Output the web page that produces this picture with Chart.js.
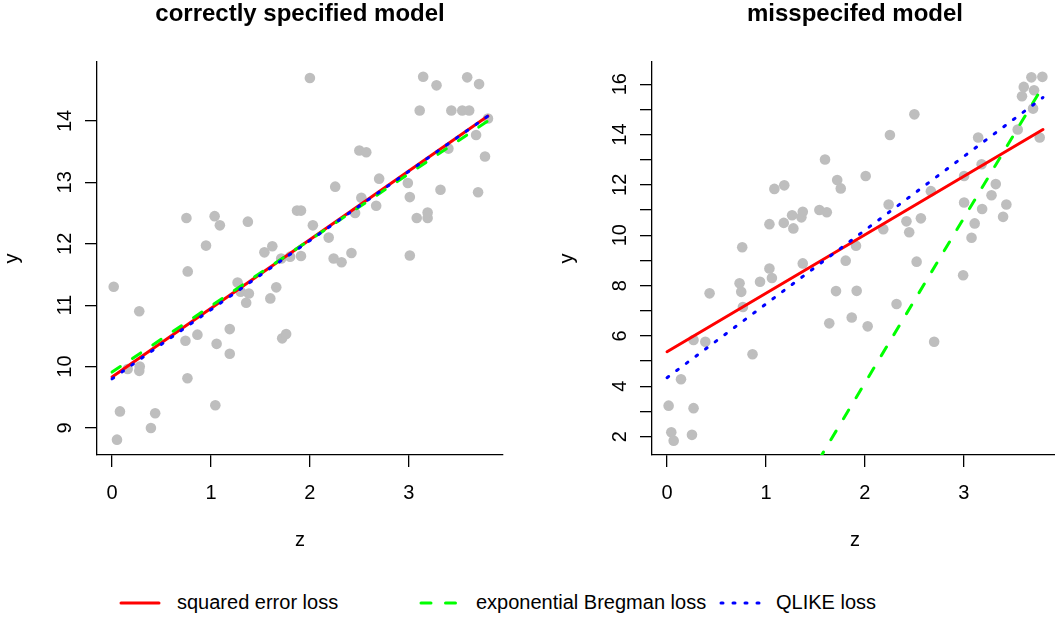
<!DOCTYPE html>
<html>
<head>
<meta charset="utf-8">
<script src="https://cdn.jsdelivr.net/npm/chart.js@4"></script>
<style>
  html, body { margin: 0; padding: 0; background: #fff; overflow: hidden; width: 1055px; height: 619px; }
  body { position: relative; font-family: "Liberation Sans", Arial, Helvetica, sans-serif; }
  .panel { position: absolute; top: 0; }
  #leftPanel { left: 0; }
  #rightPanel { left: 555px; }
  #legend { position: absolute; left: 0; top: 585px; }
</style>
</head>
<body>
<canvas id="leftPanel" class="panel" width="555" height="560"></canvas>
<canvas id="rightPanel" class="panel" width="555" height="560"></canvas>

<svg id="legend" width="1055" height="34">
  <line x1="121" y1="18" x2="159" y2="18" stroke="#ff0000" stroke-width="3" stroke-linecap="round"/>
  <text x="177" y="24" font-size="20" fill="#000">squared error loss</text>
  <line x1="421" y1="18" x2="458" y2="18" stroke="#00ff00" stroke-width="3" stroke-linecap="round" stroke-dasharray="10 14.5"/>
  <text x="476" y="24" font-size="20" fill="#000">exponential Bregman loss</text>
  <line x1="721" y1="18" x2="760" y2="18" stroke="#0000ff" stroke-width="3" stroke-linecap="round" stroke-dasharray="2 10"/>
  <text x="776" y="24" font-size="20" fill="#000">QLIKE loss</text>
</svg>

<script>
// valores
const zTicks = [0, 1, 2, 3];
const leftYTicks = [9, 10, 11, 12, 13, 14];
const leftYLabels = ['9', '10', '11', '12', '13', '14'];
const rightYTicks = [2, 3, 4, 5, 6, 7, 8, 9, 10, 11, 12, 13, 14, 15, 16];
const rightYLabels = ['2', '', '4', '', '6', '', '8', '', '10', '', '12', '', '14', '', '16'];

// painel esquerdo: modelo correto
const leftZ = [0.017, 0.05, 0.08, 0.158, 0.275, 0.28, 0.275, 0.393, 0.436, 0.742, 0.752, 0.762, 0.765, 0.863, 0.95,
  1.037, 1.044, 1.057, 1.09, 1.19, 1.19, 1.269, 1.30, 1.356, 1.383, 1.373, 1.54, 1.60, 1.62, 1.66,
  1.71, 1.72, 1.76, 1.80, 1.87, 1.91, 1.91, 2.0, 2.03, 2.19, 2.24, 2.256, 2.32, 2.42, 2.457,
  2.50, 2.52, 2.57, 2.67, 2.70, 2.99, 3.01, 3.01, 3.08, 3.11, 3.145, 3.19, 3.19, 3.28, 3.32,
  3.40, 3.43, 3.54, 3.59, 3.61, 3.68, 3.70, 3.71, 3.77, 3.80];
const leftY = [11.30, 8.81, 9.27, 9.96, 9.93, 10.0, 10.90, 9.00, 9.24, 10.42, 12.42, 9.81, 11.55, 10.52, 11.97,
  12.45, 9.37, 10.37, 12.30, 10.61, 10.21, 11.37, 11.22, 11.04, 11.19, 12.36, 11.86, 11.11, 11.96, 11.29,
  11.76, 10.46, 10.53, 11.79, 12.54, 12.54, 11.80, 14.70, 12.30, 12.10, 11.76, 12.93, 11.70, 11.85, 12.50,
  13.52, 12.75, 13.49, 12.62, 13.06, 12.99, 12.76, 11.81, 12.42, 14.17, 14.72, 12.42, 12.51, 14.58, 12.88,
  13.55, 14.17, 14.17, 14.71, 14.17, 13.77, 12.84, 14.60, 13.42, 14.04];

// painel direito: modelo mal especificado
const rightZ = [0.016, 0.043, 0.067, 0.141, 0.252, 0.268, 0.268, 0.387, 0.43, 0.733, 0.75, 0.767, 0.76, 0.864, 0.94,
  1.035, 1.06, 1.035, 1.085, 1.18, 1.185, 1.264, 1.277, 1.358, 1.372, 1.372, 1.54, 1.597, 1.615, 1.64,
  1.708, 1.72, 1.756, 1.806, 1.867, 1.91, 1.917, 2.008, 2.028, 2.186, 2.24, 2.253, 2.32, 2.42, 2.448,
  2.50, 2.523, 2.566, 2.667, 2.70, 2.993, 3.003, 3.003, 3.078, 3.11, 3.145, 3.18, 3.185, 3.28, 3.323,
  3.397, 3.43, 3.545, 3.588, 3.606, 3.683, 3.70, 3.71, 3.767, 3.794];
const rightY = [3.23, 2.17, 1.84, 4.28, 2.07, 3.13, 5.84, 5.77, 7.69, 8.09, 7.75, 7.15, 9.52, 5.27, 8.15,
  8.68, 8.30, 10.44, 11.84, 10.49, 11.98, 10.79, 10.27, 10.71, 10.93, 8.88, 11.0, 13.01, 10.91, 6.50,
  7.78, 12.19, 11.86, 8.99, 6.73, 9.58, 7.79, 12.35, 6.38, 10.24, 11.22, 13.98, 7.27, 10.55, 10.12,
  14.80, 8.95, 10.67, 11.75, 5.77, 8.41, 12.35, 11.30, 9.90, 10.47, 13.88, 12.82, 11.04, 11.59, 12.03,
  10.73, 11.22, 14.20, 15.52, 15.89, 16.27, 15.03, 15.76, 13.88, 16.29];

// retas ajustadas (extremos em z)
const fitZ = [0, 3.8];
const leftSquared = [9.83, 14.08];
const leftBregman = [9.91, 14.0];
const leftQlike = [9.80, 14.08];
const rightSquared = [5.37, 14.2];
const rightBregman = [-8.97, 15.92];
const rightQlike = [4.34, 15.47];

const FONT = '"Liberation Sans", Arial, Helvetica, sans-serif';
Chart.defaults.font.family = FONT;
Chart.defaults.color = '#000';

const toPoints = (xs, ys) => xs.map((x, i) => ({ x: x, y: ys[i] }));

// textos no estilo R: título, rótulos dos eixos e ticks do y girados
const panelText = {
    id: 'panelText',
    afterDraw(chart, args, opts) {
        const { ctx, chartArea } = chart;
        const yScale = chart.scales.y;
        const cx = (chartArea.left + chartArea.right) / 2;
        const cy = (chartArea.top + chartArea.bottom) / 2;
        ctx.save();
        ctx.fillStyle = '#000';
        ctx.textAlign = 'center';
        ctx.textBaseline = 'alphabetic';

        ctx.font = 'bold 24px ' + FONT;
        ctx.fillText(opts.title, cx, 21);

        ctx.font = '20px ' + FONT;
        ctx.fillText('z', cx, 546);

        yScale.ticks.forEach((t, i) => {
            const py = yScale.getPixelForValue(t.value);
            ctx.save();
            ctx.translate(chartArea.left - 26, py);
            ctx.rotate(-Math.PI / 2);
            ctx.fillText(opts.yLabels[i], 0, 0);
            ctx.restore();
        });

        ctx.translate(chartArea.left - 79, cy);
        ctx.rotate(-Math.PI / 2);
        ctx.fillText('y', 0, 0);
        ctx.restore();
    }
};

function makePanel(id, cfg) {
    const ctx = document.getElementById(id).getContext('2d');
    new Chart(ctx, {
        type: 'scatter',
        data: {
            datasets: [
                {
                    data: toPoints(fitZ, cfg.qlike),
                    showLine: true, pointRadius: 0,
                    borderColor: '#0000ff', borderWidth: 3,
                    borderDash: [2, 10], borderCapStyle: 'round',
                    order: 1
                },
                {
                    data: toPoints(fitZ, cfg.bregman),
                    showLine: true, pointRadius: 0,
                    borderColor: '#00ff00', borderWidth: 3,
                    borderDash: [10, 14.5], borderCapStyle: 'round',
                    order: 2
                },
                {
                    data: toPoints(fitZ, cfg.squared),
                    showLine: true, pointRadius: 0,
                    borderColor: '#ff0000', borderWidth: 3,
                    borderCapStyle: 'round',
                    order: 3
                },
                {
                    data: toPoints(cfg.z, cfg.y),
                    pointRadius: 5.3, pointHoverRadius: 5.3,
                    pointBorderWidth: 0,
                    backgroundColor: '#bebebe', borderColor: '#bebebe',
                    order: 4
                }
            ]
        },
        options: {
            responsive: false,
            animation: false,
            events: [],
            layout: { padding: { left: 0, right: 52, top: 62, bottom: 0 } },
            plugins: {
                legend: { display: false },
                tooltip: { enabled: false },
                panelText: { title: cfg.title, yLabels: cfg.yLabels }
            },
            scales: {
                x: {
                    type: 'linear',
                    min: -0.152, max: 3.952,
                    afterBuildTicks: (s) => { s.ticks = zTicks.map(v => ({ value: v })); },
                    afterFit: (s) => { s.height = 105; },
                    grid: { drawOnChartArea: false, drawTicks: true, tickLength: 12, color: '#000', lineWidth: 1.3 },
                    border: { display: true, color: '#000', width: 1.3 },
                    ticks: { autoSkip: false, maxRotation: 0, font: { size: 20 }, color: '#000', padding: 14 }
                },
                y: {
                    type: 'linear',
                    min: cfg.yMin, max: cfg.yMax,
                    afterBuildTicks: (s) => { s.ticks = cfg.yTicks.map(v => ({ value: v })); },
                    afterFit: (s) => { s.width = 97; },
                    grid: { drawOnChartArea: false, drawTicks: true, tickLength: 12, color: '#000', lineWidth: 1.3 },
                    border: { display: true, color: '#000', width: 1.3 },
                    ticks: { display: false }
                }
            }
        },
        plugins: [panelText]
    });
}

makePanel('leftPanel', {
    title: 'correctly specified model',
    z: leftZ, y: leftY,
    squared: leftSquared, bregman: leftBregman, qlike: leftQlike,
    yMin: 8.56, yMax: 14.96,
    yTicks: leftYTicks, yLabels: leftYLabels
});

makePanel('rightPanel', {
    title: 'misspecifed model',
    z: rightZ, y: rightY,
    squared: rightSquared, bregman: rightBregman, qlike: rightQlike,
    yMin: 1.27, yMax: 16.88,
    yTicks: rightYTicks, yLabels: rightYLabels
});
</script>
</body>
</html>
